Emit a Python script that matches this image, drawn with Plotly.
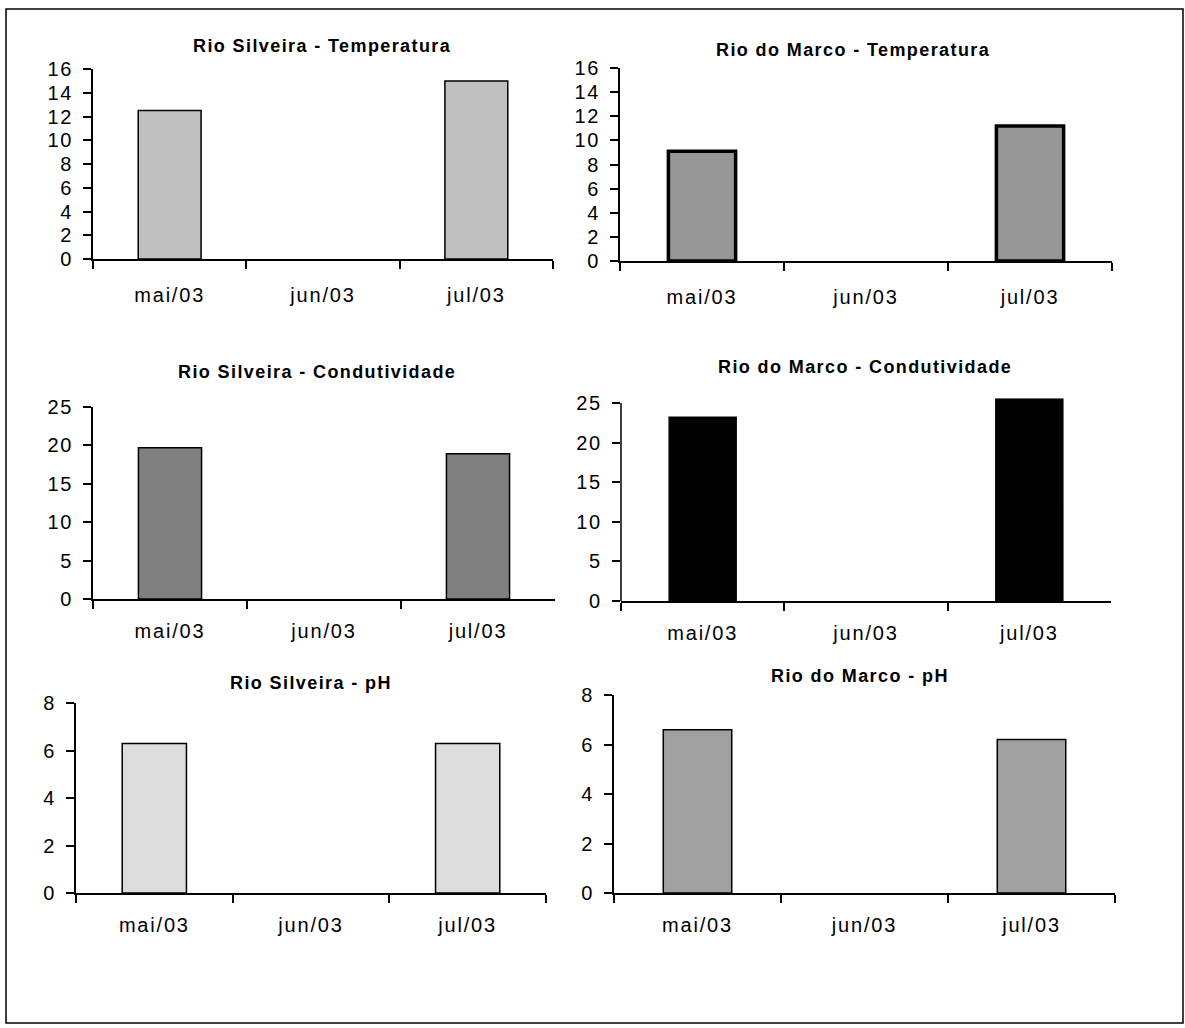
import plotly.graph_objects as go

W, H = 1185, 1028

months = ["mai/03", "jun/03", "jul/03"]

silveira_temp = [12.5, None, 15.0]
marco_temp = [9.1, None, 11.2]
silveira_cond = [19.7, None, 18.9]
marco_cond = [23.2, None, 25.5]
silveira_ph = [6.3, None, 6.3]
marco_ph = [6.6, None, 6.2]

titles = [
    "Rio Silveira - Temperatura",
    "Rio do Marco - Temperatura",
    "Rio Silveira - Condutividade",
    "Rio do Marco - Condutividade",
    "Rio Silveira - pH",
    "Rio do Marco - pH",
]

temp_ticks = [0, 2, 4, 6, 8, 10, 12, 14, 16]
cond_ticks = [0, 5, 10, 15, 20, 25]
ph_ticks = [0, 2, 4, 6, 8]

series = [silveira_temp, marco_temp, silveira_cond, marco_cond, silveira_ph, marco_ph]
yticks = [temp_ticks, temp_ticks, cond_ticks, cond_ticks, ph_ticks, ph_ticks]
fills = ["#C0C0C0", "#969696", "#808080", "#000000", "#DDDDDD", "#A0A0A0"]
outline_w = [1.5, 3.5, 1.5, 1.5, 1.5, 1.5]
# headroom above the top tick (for bars that overshoot the axis maximum)
ymax_extra = [0, 0, 0, 0.6, 0, 0]
x_standoff = [17, 17, 13, 13, 13, 13]

# pixel boxes: x0, x1, y of top tick, y of baseline
boxes = [
    (93, 553, 69, 259),
    (620, 1112, 68, 261),
    (93, 555, 407, 599),
    (621, 1111, 403, 601),
    (76, 546, 703, 893),
    (614, 1115, 695, 893),
]
title_pos = [(322, 46), (853, 50), (317, 372), (865, 367), (311, 683), (860, 676)]

FONT = "Liberation Sans, Arial, sans-serif"


def sp(t, s="letter-spacing:1.8px"):
    return f"<span style='{s}'>{t}</span>"


fig = go.Figure()
layout = dict(
    width=W, height=H, autosize=False,
    margin=dict(l=0, r=0, t=0, b=0, pad=0),
    paper_bgcolor="white", plot_bgcolor="white",
    showlegend=False,
    font=dict(family=FONT, color="black", size=20),
)
annotations = []
shapes = []
for i in range(6):
    n = "" if i == 0 else str(i + 1)
    x0, x1, yt, yb = boxes[i]
    top = yticks[i][-1]
    rng_top = top + ymax_extra[i]
    ytop_px = yb - (yb - yt) * rng_top / top
    fig.add_trace(go.Bar(
        x=months, y=series[i],
        marker=dict(color=fills[i], line=dict(color="black", width=outline_w[i])),
        xaxis="x" + n, yaxis="y" + n, width=0.41,
    ))
    layout["xaxis" + n] = dict(
        domain=[x0 / W, x1 / W], anchor="y" + n, type="category",
        categoryorder="array", categoryarray=months,
        tickvals=months, ticktext=[sp(m) for m in months],
        tickson="boundaries", ticks="outside", ticklen=8, tickwidth=1.5, tickcolor="black",
        showline=True, linecolor="black", linewidth=1.5, showgrid=False, zeroline=False,
        range=[-0.5, 2.5], ticklabelstandoff=x_standoff[i], tickfont=dict(size=20, family=FONT),
        fixedrange=True, automargin=False,
    )
    layout["yaxis" + n] = dict(
        domain=[1 - yb / H, 1 - ytop_px / H], anchor="x" + n,
        range=[0, rng_top], tickvals=yticks[i], ticktext=[sp(str(v)) for v in yticks[i]],
        ticks="outside", ticklen=8, tickwidth=1.5, tickcolor="black",
        showline=(ymax_extra[i] == 0), linecolor="black", linewidth=1.5,
        showgrid=False, zeroline=False,
        ticklabelstandoff=6, tickfont=dict(size=20, family=FONT), fixedrange=True,
        automargin=False,
    )
    if ymax_extra[i] > 0:
        shapes.append(dict(
            type="line", xref=f"x{n} domain", yref="y" + n,
            x0=0, x1=0, y0=0, y1=top, line=dict(color="black", width=1.5),
        ))
    tx, ty = title_pos[i]
    annotations.append(dict(
        text=sp(titles[i], "letter-spacing:1.4px"), x=tx / W, y=1 - ty / H,
        xref="paper", yref="paper", xanchor="center", yanchor="middle", showarrow=False,
        font=dict(size=18, family=FONT, color="black", weight="bold"),
    ))

shapes.append(dict(
    type="rect", xref="paper", yref="paper",
    x0=6 / W, x1=1183 / W, y0=1 - 1023 / H, y1=1 - 9 / H,
    line=dict(color="black", width=1.5),
))
layout["annotations"] = annotations
layout["shapes"] = shapes
fig.update_layout(**layout)
fig.write_html("out.html")
